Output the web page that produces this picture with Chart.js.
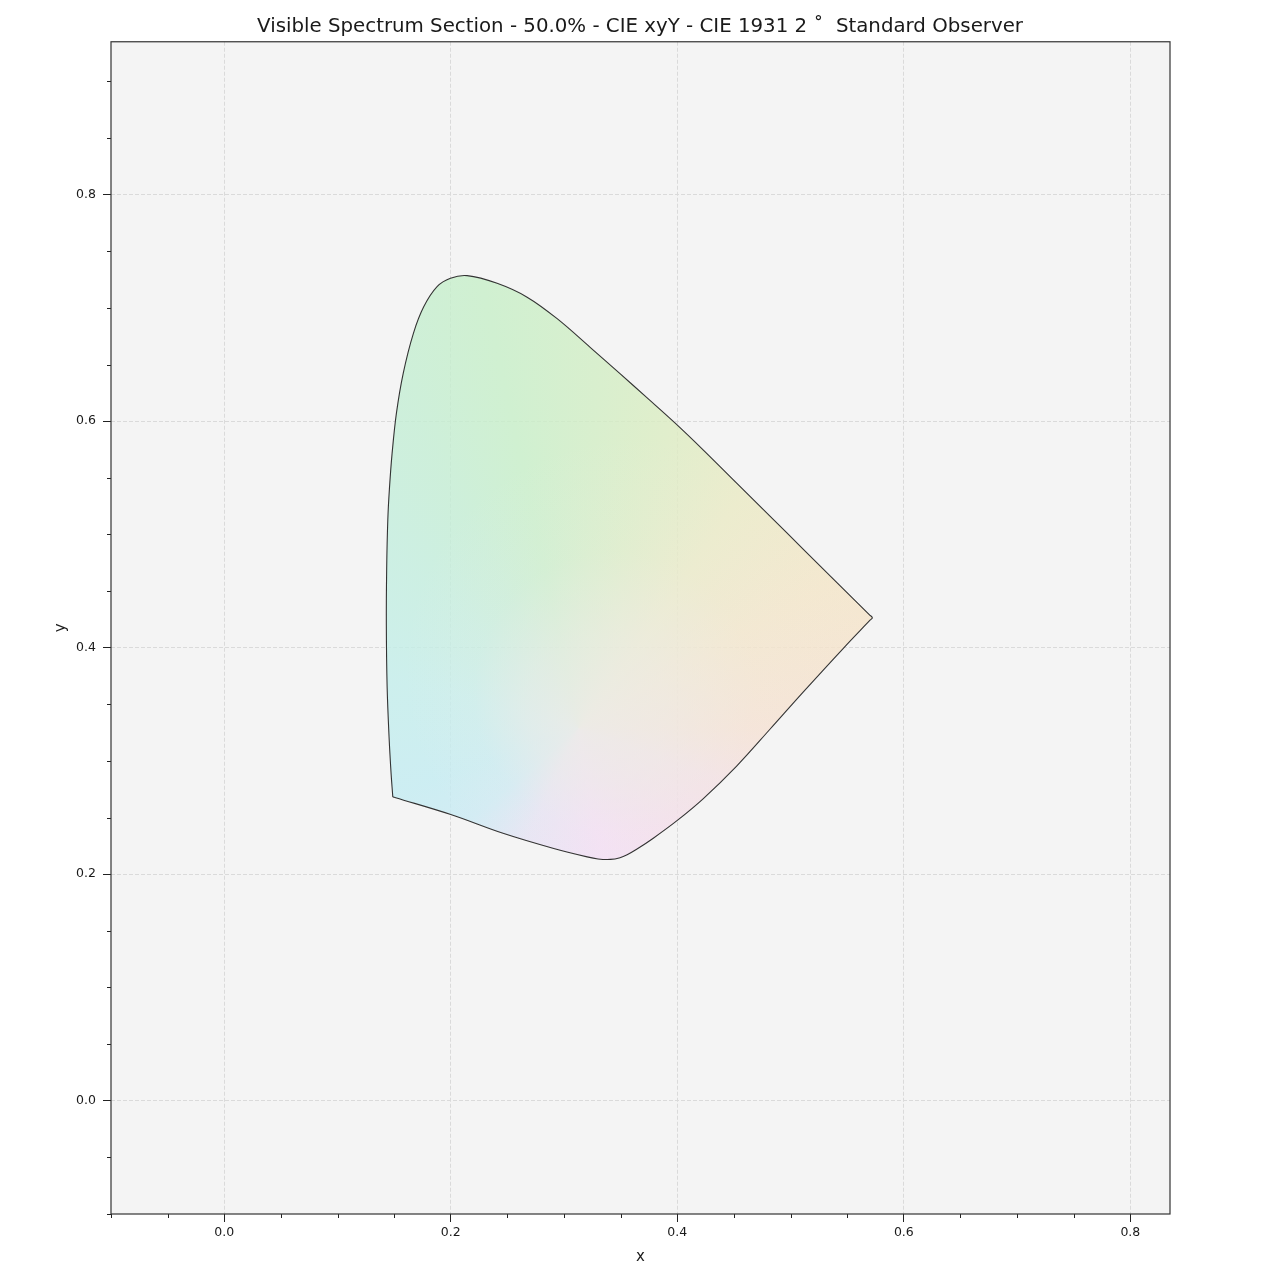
<!DOCTYPE html>
<html>
<head>
<meta charset="utf-8">
<title>Visible Spectrum Section</title>
<script src="https://cdn.jsdelivr.net/npm/chart.js@4.4.1/dist/chart.umd.min.js"></script>
<style>
  html, body { margin: 0; padding: 0; background: #ffffff; }
  #wrap { width: 1280px; height: 1280px; }
</style>
</head>
<body>
<div id="wrap"><canvas id="chart" width="1280" height="1280"></canvas></div>
<script>
// outline of the 50% luminance section (CIE xy)
const boundaryX = [
  0.1488, 0.14865, 0.1473, 0.1455, 0.1438, 0.1431, 0.1434, 0.1444, 0.1458, 0.1482,
  0.1520, 0.1580, 0.1670, 0.1762, 0.1879, 0.1997, 0.2144, 0.2409, 0.2674, 0.2939,
  0.3233, 0.3494, 0.3729, 0.3979, 0.4230, 0.4524, 0.4818, 0.5113, 0.5407, 0.5697,
  0.5722, 0.57015, 0.5466, 0.5113, 0.4818, 0.4524, 0.4230, 0.4000, 0.3788, 0.3641,
  0.3557, 0.3494, 0.3410, 0.3300, 0.3204, 0.2909, 0.2468, 0.2000, 0.15136, 0.1488
]
const boundaryY = [
  0.2683, 0.2704, 0.2888, 0.3212, 0.3653, 0.4200, 0.4700, 0.5130, 0.5400, 0.5718,
  0.6071, 0.6423, 0.6776, 0.7012, 0.7188, 0.7262, 0.7285, 0.7217, 0.7095, 0.6905,
  0.6650, 0.6420, 0.6210, 0.5985, 0.5745, 0.5453, 0.5162, 0.4869, 0.4577, 0.4290,
  0.4265, 0.4243, 0.3995, 0.3610, 0.3280, 0.2955, 0.2668, 0.2475, 0.2318, 0.2220,
  0.2172, 0.2146, 0.2131, 0.2135, 0.2153, 0.2227, 0.2359, 0.2527, 0.26752, 0.2683
]

const xMajorTicks = [0.0, 0.2, 0.4, 0.6, 0.8]
const yMajorTicks = [0.0, 0.2, 0.4, 0.6, 0.8]
const xMinorTicks = [-0.1, -0.05, 0.05, 0.1, 0.15, 0.25, 0.3, 0.35, 0.45, 0.5, 0.55, 0.65, 0.7, 0.75]
const yMinorTicks = [-0.1, -0.05, 0.05, 0.1, 0.15, 0.25, 0.3, 0.35, 0.45, 0.5, 0.55, 0.65, 0.7, 0.75, 0.85, 0.9]
const xRange = [-0.1, 0.835]
const yRange = [-0.1, 0.935]
const whitePoint = [0.3127, 0.329]

const titleText = "Visible Spectrum Section - 50.0% - CIE xyY - CIE 1931 2 \u02DA  Standard Observer"

// hue around the white point (canvas angle, clockwise from +x)
const hueStops = [
  [0, "rgba(247,224,208,0.8)"],
  [20, "rgba(245,222,226,0.8)"],
  [50, "rgba(245,220,236,0.8)"],
  [80, "rgba(244,220,245,0.8)"],
  [115, "rgba(229,226,245,0.8)"],
  [140, "rgba(202,234,244,0.8)"],
  [160, "rgba(195,236,242,0.8)"],
  [195, "rgba(195,238,235,0.8)"],
  [225, "rgba(195,238,222,0.8)"],
  [242, "rgba(196,238,212,0.8)"],
  [258, "rgba(199,239,200,0.8)"],
  [283, "rgba(217,237,194,0.8)"],
  [305, "rgba(234,234,194,0.8)"],
  [330, "rgba(244,229,198,0.8)"],
  [360, "rgba(247,224,208,0.8)"]
]

function whitePixel(chart) {
  return [chart.scales.x.getPixelForValue(whitePoint[0]), chart.scales.y.getPixelForValue(whitePoint[1])]
}

function hueFill(context) {
  const chart = context.chart
  if (!chart.chartArea) return "rgba(220,238,220,0.8)"
  const [cx, cy] = whitePixel(chart)
  const g = chart.ctx.createConicGradient(0, cx, cy)
  hueStops.forEach(([deg, col]) => g.addColorStop(deg / 360, col))
  return g
}

function neutralFill(context) {
  const chart = context.chart
  if (!chart.chartArea) return "rgba(0,0,0,0)"
  const [cx, cy] = whitePixel(chart)
  // outer circle pushed up and right: the grey centre reaches further that way
  const g = chart.ctx.createRadialGradient(cx, cy, 0, cx + 60, cy - 60, 235)
  g.addColorStop(0, "rgba(236,235,232,0.9)")
  g.addColorStop(0.3, "rgba(236,235,232,0.6)")
  g.addColorStop(0.6, "rgba(236,235,232,0.15)")
  g.addColorStop(1, "rgba(236,235,232,0)")
  return g
}

const points = boundaryX.map((x, i) => ({ x: x, y: boundaryY[i] }))

const frame = {
  id: "frame",
  beforeDraw(chart) {
    const { ctx, chartArea: a } = chart
    ctx.save()
    ctx.fillStyle = "#f4f4f4"
    ctx.fillRect(a.left, a.top, a.right - a.left, a.bottom - a.top)
    ctx.restore()
  },
  afterDraw(chart) {
    const { ctx, chartArea: a, scales } = chart
    ctx.save()
    ctx.strokeStyle = "#222"
    ctx.lineWidth = 1
    ctx.beginPath()
    xMinorTicks.forEach((v) => {
      const px = Math.round(scales.x.getPixelForValue(v)) + 0.5
      ctx.moveTo(px, a.bottom)
      ctx.lineTo(px, a.bottom + 4)
    })
    yMinorTicks.forEach((v) => {
      const py = Math.round(scales.y.getPixelForValue(v)) + 0.5
      ctx.moveTo(a.left - 4, py)
      ctx.lineTo(a.left, py)
    })
    ctx.stroke()
    ctx.strokeStyle = "#333"
    ctx.lineWidth = 1.2
    ctx.strokeRect(a.left, a.top, a.right - a.left, a.bottom - a.top)
    ctx.restore()
  }
}

const tickFont = { family: "DejaVu Sans", size: 12.5 }

new Chart(document.getElementById("chart"), {
  type: "scatter",
  data: {
    datasets: [
      {
        data: points,
        showLine: true,
        fill: "shape",
        backgroundColor: neutralFill,
        borderColor: "#333333",
        borderWidth: 1.1,
        pointRadius: 0,
        tension: 0.35,
        order: 1
      },
      {
        data: points,
        showLine: true,
        fill: "shape",
        backgroundColor: hueFill,
        borderWidth: 0,
        pointRadius: 0,
        tension: 0.35,
        order: 2
      }
    ]
  },
  options: {
    responsive: false,
    animation: false,
    events: [],
    layout: { padding: 0 },
    plugins: {
      legend: { display: false },
      tooltip: { enabled: false },
      title: {
        display: true,
        text: titleText,
        color: "#1a1a1a",
        font: { family: "DejaVu Sans", size: 19.8, weight: "normal" },
        padding: { top: 15, bottom: 3 }
      }
    },
    scales: {
      x: {
        type: "linear",
        min: xRange[0],
        max: xRange[1],
        afterBuildTicks: (axis) => { axis.ticks = xMajorTicks.map((v) => ({ value: v })) },
        afterFit: (axis) => { axis.height = 66 },
        ticks: { callback: (v) => v.toFixed(1), color: "#1a1a1a", font: tickFont, padding: 3, maxRotation: 0 },
        grid: { color: "#dadada", lineWidth: 1, tickLength: 8, tickColor: "#222", tickWidth: 1 },
        border: { display: false, dash: [4, 2] },
        title: { display: true, text: "x", color: "#1a1a1a", font: { family: "DejaVu Sans", size: 15 }, padding: { top: 0, bottom: 14 } }
      },
      y: {
        type: "linear",
        min: yRange[0],
        max: yRange[1],
        afterBuildTicks: (axis) => { axis.ticks = yMajorTicks.map((v) => ({ value: v })) },
        afterFit: (axis) => { axis.width = 111 },
        ticks: { callback: (v) => v.toFixed(1), color: "#1a1a1a", font: tickFont, padding: 7 },
        grid: { color: "#dadada", lineWidth: 1, tickLength: 8, tickColor: "#222", tickWidth: 1 },
        border: { display: false, dash: [4, 2] },
        title: { display: true, text: "y", color: "#1a1a1a", font: { family: "DejaVu Sans", size: 15 }, padding: { top: 52, bottom: 0 } }
      },
      // empty right-hand strip so the title centres on the plot like the reference
      yRight: {
        type: "linear",
        position: "right",
        min: yRange[0],
        max: yRange[1],
        afterFit: (axis) => { axis.width = 110 },
        ticks: { display: false },
        grid: { display: false, drawTicks: false },
        border: { display: false }
      }
    }
  },
  plugins: [frame]
})
</script>
</body>
</html>
